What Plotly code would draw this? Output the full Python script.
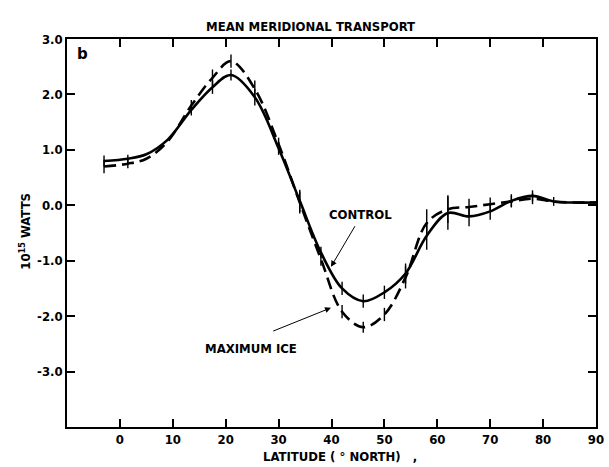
import plotly.graph_objects as go

# ---- data ----
lat = [-3, 1.5, 5, 9, 13.5, 17.5, 21, 25.5, 30, 34, 38, 42, 46, 50, 54, 58, 62, 66, 70, 74, 78, 82, 86, 90]
control = [0.80, 0.84, 0.92, 1.18, 1.72, 2.13, 2.35, 1.95, 1.03, 0.08, -0.85, -1.50, -1.73, -1.57, -1.23, -0.55,
           -0.14, -0.20, -0.11, 0.08, 0.17, 0.07, 0.05, 0.05]
control_err = [0.10, 0.07, None, None, 0.10, 0.12, 0.10, 0.15, 0.12, 0.20, 0.10, 0.12, 0.12, 0.12, 0.18, 0.25,
               0.30, 0.18, 0.15, 0.12, 0.10, 0.08, None, None]
max_ice = [0.70, 0.75, 0.84, 1.15, 1.80, 2.30, 2.60, 2.10, 1.10, 0.05, -0.97, -1.92, -2.20, -1.97, -1.30, -0.32,
           -0.07, -0.03, 0.02, 0.07, 0.12, 0.07, 0.05, 0.05]
max_ice_err = [0.12, 0.08, None, None, 0.10, 0.15, 0.12, 0.15, 0.12, 0.20, 0.12, 0.12, 0.10, 0.12, 0.20, 0.25,
               0.25, 0.15, 0.12, 0.10, 0.10, None, None, None]

x_ticks = [0, 10, 20, 30, 40, 50, 60, 70, 80, 90]
y_ticks = [3, 2, 1, 0, -1, -2, -3]
y_labels = ["3.0", "2.0", "1.0", "0.0", "-1.0", "-2.0", "-3.0"]

FONT = "Liberation Sans Narrow, DejaVu Sans Condensed, Arial Narrow, sans-serif"

fig = go.Figure()
fig.add_trace(go.Scatter(
    x=lat, y=control, mode="lines", line=dict(color="black", width=2.6, shape="spline", smoothing=1.0),
    error_y=dict(type="data", array=control_err, symmetric=True, width=0, thickness=1.4, color="black"),
    name="CONTROL", showlegend=False))
fig.add_trace(go.Scatter(
    x=lat, y=max_ice, mode="lines",
    line=dict(color="black", width=2.6, shape="spline", smoothing=1.0, dash="12px,6px"),
    error_y=dict(type="data", array=max_ice_err, symmetric=True, width=0, thickness=1.4, color="black"),
    name="MAXIMUM ICE", showlegend=False))

axis_common = dict(showline=True, linewidth=1.5, linecolor="black", mirror="ticks", ticks="inside",
                   ticklen=8, tickwidth=1.5, tickcolor="black", showgrid=False, zeroline=False,
                   ticklabeloverflow="allow",
                   tickfont=dict(family=FONT, size=13, color="black", weight="bold"))

fig.update_layout(
    width=609, height=467,
    margin=dict(l=67, r=5, t=39, b=40),
    paper_bgcolor="white", plot_bgcolor="white",
    xaxis=dict(range=[-10, 90], tickvals=x_ticks, ticktext=[str(v) for v in x_ticks], **axis_common),
    yaxis=dict(range=[-4, 3], tickvals=y_ticks, ticktext=y_labels, **axis_common),
    annotations=[
        dict(text="MEAN MERIDIONAL TRANSPORT", xref="paper", yref="paper", x=0.46, y=1.031,
             showarrow=False, xanchor="center", yanchor="middle",
             font=dict(family=FONT, size=13, color="black", weight="bold")),
        dict(text="LATITUDE ( ° NORTH)   ,", xref="paper", yref="paper", x=0.516, y=-0.077,
             showarrow=False, xanchor="center", yanchor="middle",
             font=dict(family=FONT, size=13, color="black", weight="bold")),
        dict(text="10<sup>15</sup> WATTS", xref="paper", yref="paper", x=-0.08, y=0.505,
             showarrow=False, textangle=-90, xanchor="center", yanchor="middle",
             font=dict(family=FONT, size=13, color="black", weight="bold")),
        dict(text="b", xref="paper", yref="paper", x=0.03, y=0.961, showarrow=False,
             xanchor="center", yanchor="middle",
             font=dict(family="DejaVu Sans, sans-serif", size=15, color="black", weight="bold")),
        dict(text="CONTROL", x=45.5, y=-0.17, xref="x", yref="y", showarrow=False,
             font=dict(family=FONT, size=13, color="black", weight="bold")),
        dict(text="MAXIMUM ICE", x=24.8, y=-2.58, xref="x", yref="y", showarrow=False,
             font=dict(family=FONT, size=13, color="black", weight="bold")),
        dict(text="", x=39.9, y=-1.11, ax=44.6, ay=-0.35, xref="x", yref="y", axref="x", ayref="y",
             showarrow=True, arrowhead=2, arrowsize=1.2, arrowwidth=1, arrowcolor="black"),
        dict(text="", x=39.9, y=-1.85, ax=28.7, ay=-2.28, xref="x", yref="y", axref="x", ayref="y",
             showarrow=True, arrowhead=2, arrowsize=1.2, arrowwidth=1, arrowcolor="black"),
    ],
)

fig.write_html("out.html")
